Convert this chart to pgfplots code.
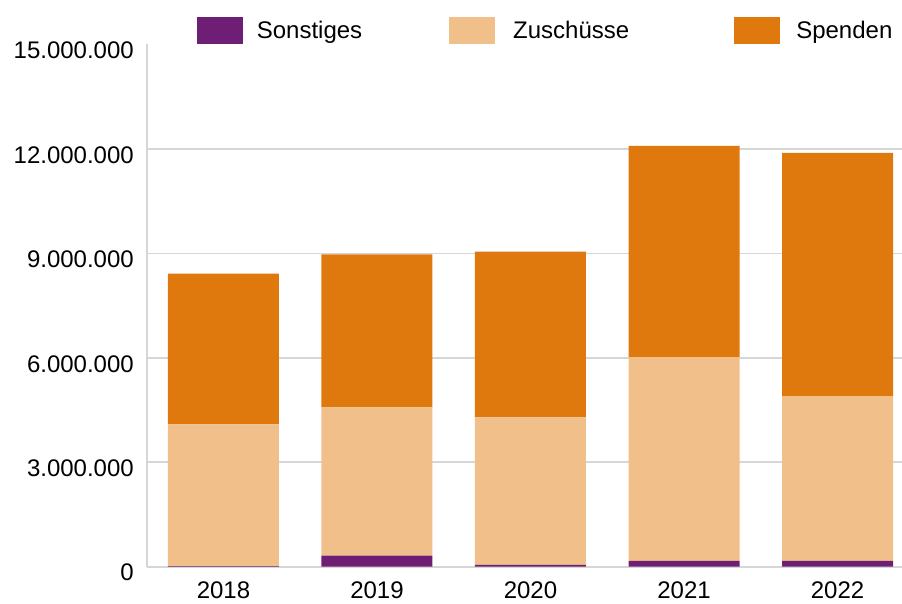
\documentclass[border=0pt]{standalone}
\usepackage{fontspec}
\setmainfont{Liberation Sans}
\usepackage{pgfplots}
\pgfplotsset{compat=1.18}
\definecolor{sonst}{HTML}{6E1E74}
\definecolor{zusch}{HTML}{F0BF8A}
\definecolor{spend}{HTML}{DF790E}
\definecolor{gridc}{HTML}{D6D6D6}
\begin{document}
\begin{tikzpicture}
\useasboundingbox (-147pt,-36.3pt) rectangle (755pt,566.7pt);
\begin{axis}[
  scale only axis, width=755pt, height=522.2pt,
  xmin=-0.498, xmax=4.42, ymin=0, ymax=15000000,
  ybar stacked, bar width=111pt,
  xtick={0,1,2,3,4}, xticklabels={2018,2019,2020,2021,2022},
  ytick={0,3000000,6000000,9000000,12000000,15000000},
  scaled y ticks=false,
  yticklabel style={/pgf/number format/fixed, /pgf/number format/1000 sep={.}, /pgf/number format/assume math mode=true,
    anchor=east, inner sep=0pt, xshift=-13pt, yshift=-6pt},
  xticklabel style={anchor=north, inner sep=0pt, yshift=-15pt},
  ticklabel style={font=\fontsize{24}{28}\selectfont},
  axis y line*=left, axis x line*=bottom,
  x axis line style={draw=none},
  y axis line style={gridc, line width=2pt},
  major tick length=0pt, tick style={draw=none},
  extra y ticks={0,3000000,6000000,9000000,12000000},
  extra y tick labels={},
  extra y tick style={grid=major, major grid style={gridc, line width=1.6pt}},
  legend columns=3,
  legend image code/.code={\fill[#1,draw=none] (0pt,-13.5pt) rectangle (46pt,13.5pt);},
  legend style={draw=none, fill=none, at={(axis description cs:0.066,1)}, anchor=south west,
    inner sep=0pt, outer sep=0pt, font=\fontsize{24}{28}\selectfont,
    nodes={inner sep=0pt},
    /tikz/every odd column/.append style={column sep=14pt},
    /tikz/every even column/.append style={column sep=87pt}},
]
\addplot[fill=sonst, draw=none] coordinates {(0,20000) (1,316000) (2,50000) (3,170000) (4,170000)};
\addlegendentry{Sonstiges}
\addplot[fill=zusch, draw=none] coordinates {(0,4070000) (1,4264000) (2,4240000) (3,5850000) (4,4730000)};
\addlegendentry{\kern4pt Zuschüsse\kern18pt}
\addplot[fill=spend, draw=none] coordinates {(0,4330000) (1,4390000) (2,4760000) (3,6070000) (4,6990000)};
\addlegendentry{\kern2pt Spenden}
\end{axis}
\end{tikzpicture}
\end{document}
